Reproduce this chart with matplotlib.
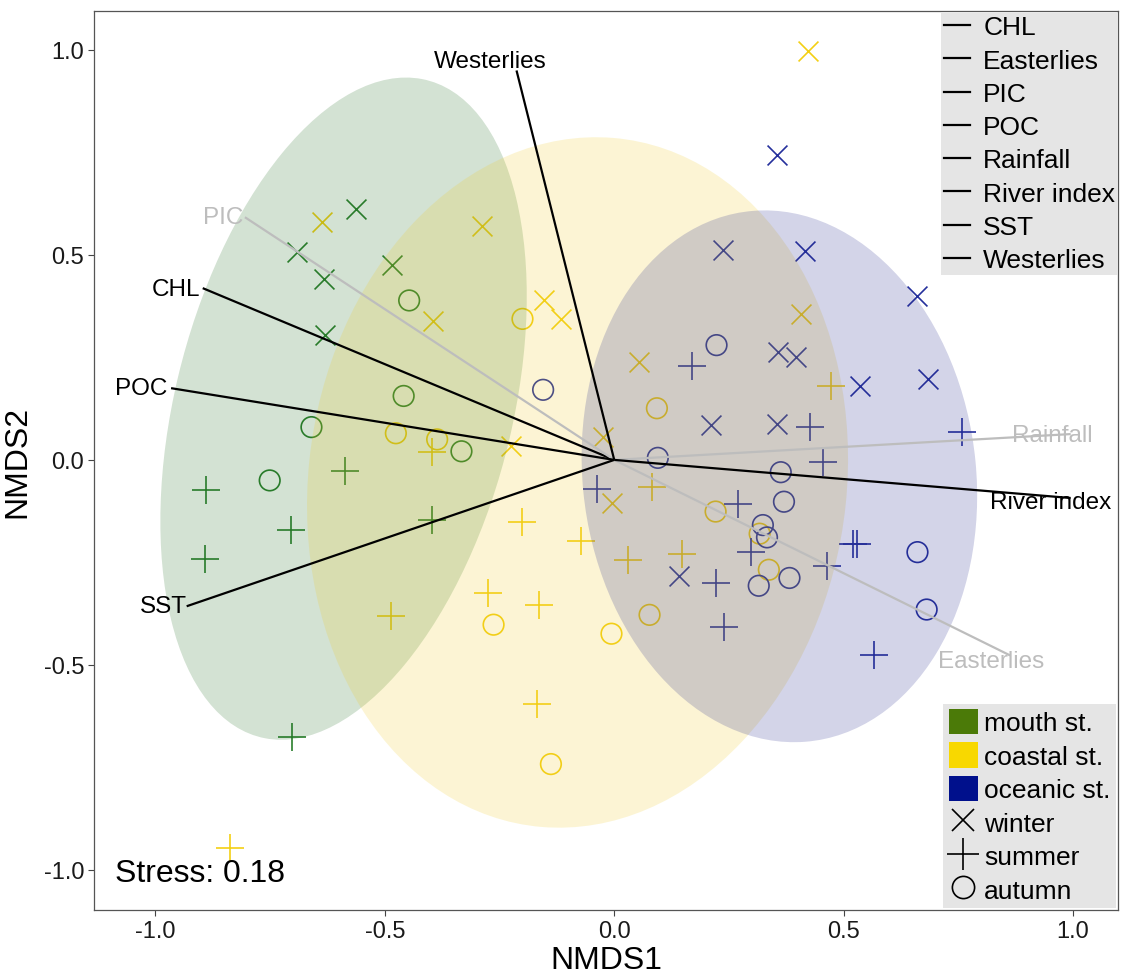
import matplotlib.pyplot as plt
from matplotlib.patches import Ellipse, Patch
from matplotlib.lines import Line2D

plt.rcParams['font.family'] = ['Liberation Sans', 'DejaVu Sans']
plt.rcParams['axes.unicode_minus'] = False

# =========================================================
# DATA (read off the NMDS ordination)
# =========================================================

# mouth stations
mouth_winter_x = [-0.563, -0.692, -0.485, -0.632, -0.630]
mouth_winter_y = [0.612, 0.506, 0.476, 0.441, 0.305]
mouth_summer_x = [-0.890, -0.586, -0.705, -0.397, -0.892, -0.702]
mouth_summer_y = [-0.074, -0.028, -0.172, -0.147, -0.242, -0.677]
mouth_autumn_x = [-0.447, -0.459, -0.660, -0.333, -0.751]
mouth_autumn_y = [0.389, 0.156, 0.080, 0.021, -0.050]

# coastal stations
coastal_winter_x = [-0.636, -0.288, -0.395, -0.152, -0.117, -0.225, 0.423, 0.407, 0.054, -0.024, -0.005]
coastal_winter_y = [0.581, 0.571, 0.340, 0.389, 0.344, 0.035, 0.997, 0.356, 0.238, 0.055, -0.106]
coastal_summer_x = [-0.397, -0.201, -0.275, -0.164, -0.487, -0.169, -0.838, 0.472, 0.082, -0.072, 0.029, 0.148]
coastal_summer_y = [0.020, -0.151, -0.324, -0.353, -0.380, -0.596, -0.947, 0.181, -0.067, -0.197, -0.243, -0.229]
coastal_autumn_x = [-0.200, -0.476, -0.386, -0.263, -0.138, 0.093, 0.221, 0.317, 0.337, 0.077, -0.006]
coastal_autumn_y = [0.344, 0.065, 0.050, -0.402, -0.742, 0.126, -0.126, -0.180, -0.268, -0.378, -0.424]

# oceanic stations
oceanic_winter_x = [0.355, 0.238, 0.415, 0.659, 0.356, 0.396, 0.535, 0.684, 0.211, 0.354, 0.142]
oceanic_winter_y = [0.745, 0.511, 0.509, 0.399, 0.263, 0.250, 0.181, 0.198, 0.085, 0.087, -0.282]
oceanic_summer_x = [0.170, 0.426, 0.759, 0.456, -0.038, 0.270, 0.298, 0.521, 0.530, 0.221, 0.463, 0.240, 0.566]
oceanic_summer_y = [0.228, 0.080, 0.067, -0.006, -0.071, -0.107, -0.225, -0.205, -0.205, -0.301, -0.258, -0.408, -0.475]
oceanic_autumn_x = [-0.155, 0.223, 0.095, 0.363, 0.370, 0.324, 0.333, 0.382, 0.315, 0.661, 0.681]
oceanic_autumn_y = [0.171, 0.280, 0.005, -0.030, -0.102, -0.159, -0.189, -0.288, -0.307, -0.225, -0.365]

# group ellipses: centre, full axes, rotation (deg)
ellipse_cx = [-0.59, -0.08, 0.36]
ellipse_cy = [0.125, -0.055, -0.04]
ellipse_w = [1.644, 1.688, 1.300]
ellipse_h = [0.738, 1.174, 0.858]
ellipse_angle = [78.0, 84.7, 95.0]

# environmental fit vectors
vec_names = ["CHL", "Easterlies", "PIC", "POC", "Rainfall", "River index", "SST", "Westerlies"]
vec_x = [-0.897, 0.863, -0.805, -0.966, 0.995, 0.995, -0.932, -0.213]
vec_y = [0.419, -0.477, 0.592, 0.175, 0.063, -0.093, -0.357, 0.950]
vec_signif = [True, False, False, True, False, True, True, True]
# label anchors
lab_x = [-0.903, 0.822, -0.808, -0.975, 0.954, 0.951, -0.932, -0.270]
lab_y = [0.417, -0.490, 0.592, 0.175, 0.061, -0.102, -0.357, 0.973]
lab_ha = ["right", "center", "right", "right", "center", "center", "right", "center"]

stations = ["mouth st.", "coastal st.", "oceanic st."]
seasons = ["winter", "summer", "autumn"]
stress = 0.18

# =========================================================
# STYLE
# =========================================================

POINT_COLORS = ["#2a7f2c", "#f3cf14", "#25309c"]
ELLIPSE_COLORS = ["#236e23", "#f0cc28", "#23288c"]
LEGEND_COLORS = ["#4b7a08", "#f8d800", "#00108c"]
SEASON_MARKERS = ["x", "+", "o"]
SEASON_SIZES = [205, 430, 220]

groups = [
    [(mouth_winter_x, mouth_winter_y), (mouth_summer_x, mouth_summer_y), (mouth_autumn_x, mouth_autumn_y)],
    [(coastal_winter_x, coastal_winter_y), (coastal_summer_x, coastal_summer_y), (coastal_autumn_x, coastal_autumn_y)],
    [(oceanic_winter_x, oceanic_winter_y), (oceanic_summer_x, oceanic_summer_y), (oceanic_autumn_x, oceanic_autumn_y)],
]

fig = plt.figure(figsize=(11.23, 9.78), dpi=100)
ax = fig.add_axes([0.0837, 0.0685, 0.9118, 0.9192])

for i, station_sets in enumerate(groups):
    for j, (xs, ys) in enumerate(station_sets):
        if SEASON_MARKERS[j] == "o":
            ax.scatter(xs, ys, s=SEASON_SIZES[j], marker="o", facecolors="none",
                       edgecolors=POINT_COLORS[i], linewidths=1.2, zorder=2)
        else:
            ax.scatter(xs, ys, s=SEASON_SIZES[j], marker=SEASON_MARKERS[j],
                       color=POINT_COLORS[i], linewidths=1.2, zorder=2)

for i in range(3):
    ax.add_patch(Ellipse((ellipse_cx[i], ellipse_cy[i]), ellipse_w[i], ellipse_h[i],
                         angle=ellipse_angle[i], facecolor=ELLIPSE_COLORS[i],
                         edgecolor="none", alpha=0.2, zorder=3))

for k, name in enumerate(vec_names):
    col = "black" if vec_signif[k] else "#bdbdbd"
    ax.plot([0, vec_x[k]], [0, vec_y[k]], color=col, lw=1.6, zorder=4, solid_capstyle="butt")
    ax.text(lab_x[k], lab_y[k], name, color=col, fontsize=17.5, ha=lab_ha[k], va="center", zorder=5)

ax.text(-1.089, -1.028, f"Stress: {stress:.2f}", fontsize=23, va="baseline", zorder=5)

ax.set_xlim(-1.134, 1.098)
ax.set_ylim(-1.098, 1.095)
ax.set_xticks([-1.0, -0.5, 0.0, 0.5, 1.0])
ax.set_yticks([-1.0, -0.5, 0.0, 0.5, 1.0])
ax.set_xticklabels(["-1.0", "-0.5", "0.0", "0.5", "1.0"])
ax.set_yticklabels(["-1.0", "-0.5", "0.0", "0.5", "1.0"])
ax.tick_params(direction="out", length=4, width=0.8, color="#444444",
               labelsize=17, labelcolor="#1a1a1a", pad=3)
for sp in ax.spines.values():
    sp.set_color("#555555")
    sp.set_linewidth(0.9)
ax.set_xlabel("NMDS1", fontsize=23, labelpad=2)
ax.set_ylabel("NMDS2", fontsize=23, labelpad=8)

# vector legend (top right)
vec_handles = [Line2D([], [], color="black", lw=1.6) for _ in vec_names]
leg1 = ax.legend(vec_handles, vec_names, loc="upper right", bbox_to_anchor=(1.0, 0.998),
                 fontsize=19, frameon=True, facecolor="#e5e5e5", edgecolor="none",
                 framealpha=1, fancybox=False, borderaxespad=0.0, borderpad=0.1,
                 labelspacing=0.35, handlelength=1.0, handletextpad=0.5)
leg1.set_zorder(10)
ax.add_artist(leg1)

# station / season legend (bottom right)
st_handles = [Patch(facecolor=c, edgecolor="none") for c in LEGEND_COLORS]
se_handles = [
    Line2D([], [], linestyle="none", marker="x", color="black", markersize=16, markeredgewidth=1.2),
    Line2D([], [], linestyle="none", marker="+", color="black", markersize=23, markeredgewidth=1.2),
    Line2D([], [], linestyle="none", marker="o", color="black", markerfacecolor="none",
           markersize=16, markeredgewidth=1.2),
]
leg2 = ax.legend(st_handles + se_handles, stations + seasons, loc="lower right",
                 bbox_to_anchor=(0.998, 0.002), fontsize=19, frameon=True, facecolor="#e5e5e5",
                 edgecolor="none", framealpha=1, fancybox=False, borderaxespad=0.0,
                 borderpad=0.2, labelspacing=0.26, handlelength=1.1, handleheight=1.1,
                 handletextpad=0.25)
leg2.set_zorder(10)

fig.savefig("out.png", dpi=100)
